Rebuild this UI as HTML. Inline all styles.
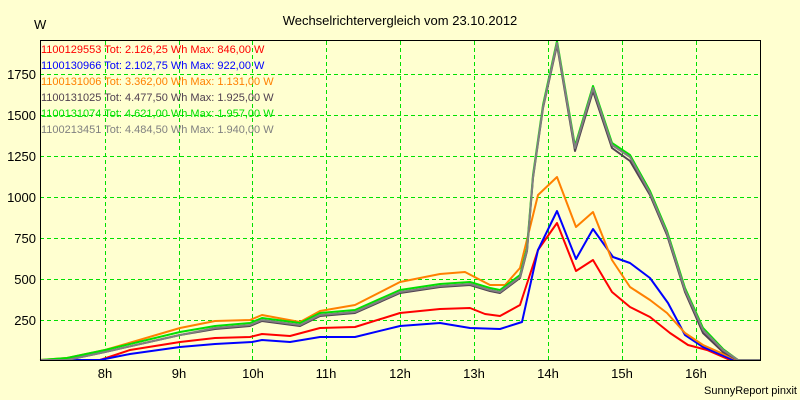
<!DOCTYPE html>
<html><head><style>
body{margin:0;background:#FFFFD0;}
svg{display:block;font-family:"Liberation Sans",sans-serif;}
</style></head><body>
<svg width="800" height="400" xmlns="http://www.w3.org/2000/svg">
<rect width="800" height="400" fill="#FFFFD0"/>
<text x="400" y="25" font-size="13" text-anchor="middle" fill="#000">Wechselrichtervergleich vom 23.10.2012</text>
<text x="34" y="29" font-size="13" fill="#000">W</text>
<g fill="#00E000">
<rect x="40" y="320" width="720" height="1" fill="none"/>
</g>
<g stroke="#00E000" stroke-width="1" stroke-dasharray="4,3" shape-rendering="crispEdges">
<line x1="40" x2="760" y1="320.5" y2="320.5"/><line x1="40" x2="760" y1="279.5" y2="279.5"/>
<line x1="40" x2="760" y1="238.5" y2="238.5"/><line x1="40" x2="760" y1="197.5" y2="197.5"/>
<line x1="40" x2="760" y1="156.5" y2="156.5"/><line x1="40" x2="760" y1="115.5" y2="115.5"/>
<line x1="40" x2="760" y1="74.5" y2="74.5"/>
<line y1="41" y2="360" x1="105.5" x2="105.5"/><line y1="41" y2="360" x1="179.5" x2="179.5"/>
<line y1="41" y2="360" x1="252.5" x2="252.5"/><line y1="41" y2="360" x1="326.5" x2="326.5"/>
<line y1="41" y2="360" x1="400.5" x2="400.5"/><line y1="41" y2="360" x1="474.5" x2="474.5"/>
<line y1="41" y2="360" x1="548.5" x2="548.5"/><line y1="41" y2="360" x1="622.5" x2="622.5"/>
<line y1="41" y2="360" x1="696.5" x2="696.5"/>
</g>
<g font-size="13" text-anchor="end" fill="#000">
<text x="36" y="325">250</text><text x="36" y="284">500</text><text x="36" y="243">750</text>
<text x="36" y="202">1000</text><text x="36" y="161">1250</text><text x="36" y="120">1500</text><text x="36" y="79">1750</text>
</g>
<g font-size="13" text-anchor="middle" fill="#000">
<text x="105" y="378">8h</text><text x="179" y="378">9h</text><text x="253" y="378">10h</text>
<text x="326" y="378">11h</text><text x="400" y="378">12h</text><text x="474" y="378">13h</text>
<text x="548" y="378">14h</text><text x="622" y="378">15h</text><text x="696" y="378">16h</text>
</g>
<text x="797" y="394" font-size="11" text-anchor="end" fill="#000">SunnyReport pinxit</text>
<g fill="none" stroke-width="2" stroke-linejoin="round">
<polyline stroke="#FF0000" points="40,360 100,360 130,350 180,342 215,338 250,337 262,334 290,336 320,328 355,327 400,313 440,309 470,308 485,314 500,316 520,305 538,250 557,223 576,271 593,260 612,292 630,307 650,317 670,333 688,345 707,350 730,360 760,360"/>
<polyline stroke="#0000FF" points="40,360 100,360 130,354 180,347 215,344 252,342 262,340 290,342 320,337 355,337 400,326 440,323 470,328 500,329 522,322 538,250 557,211 576,259 593,229 613,257 630,263 650,278 668,303 685,335 703,347 733,360 760,360"/>
<polyline stroke="#FF8000" points="40,360 67,358 105,350 180,328 215,321 250,320 262,315 300,322 320,311 355,305 400,282 440,274 465,272 490,285 505,285 520,268 538,195 557,177 576,227 593,212 612,260 630,287 650,300 667,313 685,333 703,345 737,360 760,360"/>
<polyline stroke="#504050" points="40,360 67,360 105,352 180,335 215,329 250,326 262,321 300,326 320,316 355,313 400,293 440,287 470,285 490,291 500,293 520,278 527,251 533,178 543,108 557,45 575,151 593,91 612,148 630,161 650,195 667,235 685,292 703,333 723,352 738,360 760,360"/>
<polyline stroke="#00E000" points="40,360 67,358 105,350 180,332 215,326 250,323 262,318 300,323 320,313 355,310 400,290 440,284 470,282 490,288 500,290 520,275 527,248 533,175 543,105 557,41 575,146 593,86 612,143 630,155 650,191 667,231 685,288 703,328 723,349 738,360 760,360"/>
<polyline stroke="#808080" points="40,360 67,360 105,352 180,335 215,328 250,325 262,320 300,325 320,315 355,312 400,292 440,286 470,284 490,290 500,292 520,277 527,250 533,177 543,107 557,43 575,148 593,88 612,145 630,157 650,193 667,233 685,290 703,330 723,350 738,360 760,360"/>
</g>
<rect x="40.5" y="40.5" width="720" height="320" fill="none" stroke="#000" stroke-width="1" shape-rendering="crispEdges"/>
<g font-size="11">
<text x="41" y="53" fill="#FF0000">1100129553 Tot: 2.126,25 Wh Max: 846,00 W</text>
<text x="41" y="69" fill="#0000FF">1100130966 Tot: 2.102,75 Wh Max: 922,00 W</text>
<text x="41" y="85" fill="#FF8000">1100131006 Tot: 3.362,00 Wh Max: 1.131,00 W</text>
<text x="41" y="101" fill="#504050">1100131025 Tot: 4.477,50 Wh Max: 1.925,00 W</text>
<text x="41" y="117" fill="#00E000">1100131074 Tot: 4.621,00 Wh Max: 1.957,00 W</text>
<text x="41" y="133" fill="#808080">1100213451 Tot: 4.484,50 Wh Max: 1.940,00 W</text>
</g>
</svg>
</body></html>
